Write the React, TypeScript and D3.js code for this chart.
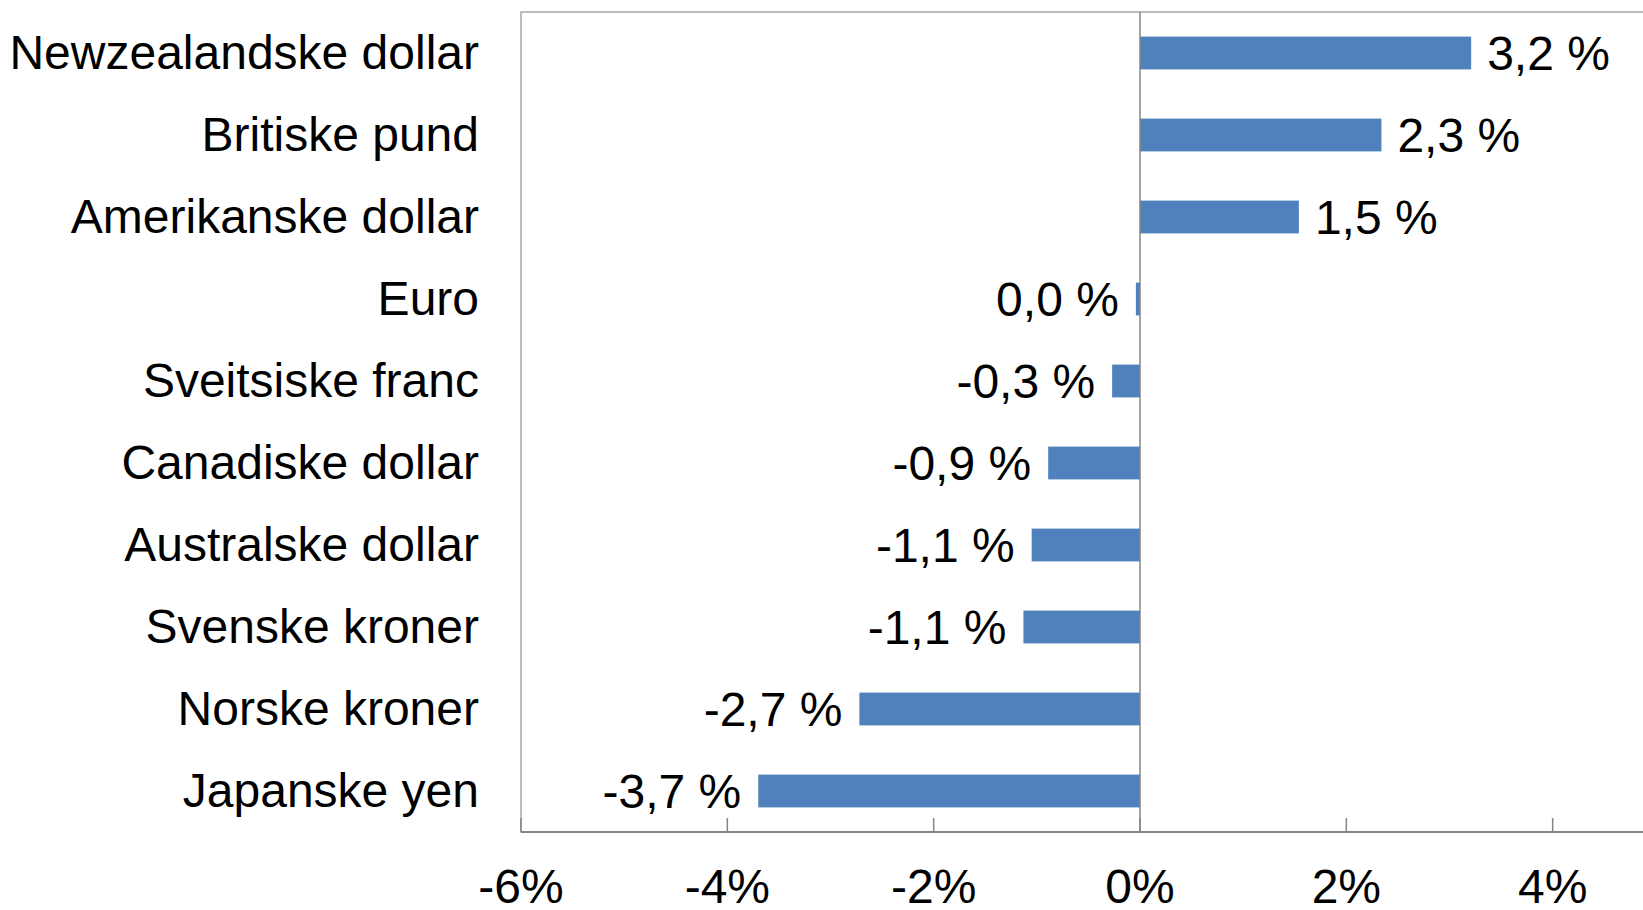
import React from "react";
import * as d3 from "d3";

const categories = [
  "Newzealandske dollar",
  "Britiske pund",
  "Amerikanske dollar",
  "Euro",
  "Sveitsiske franc",
  "Canadiske dollar",
  "Australske dollar",
  "Svenske kroner",
  "Norske kroner",
  "Japanske yen",
];
const values = [3.21, 2.34, 1.54, -0.04, -0.27, -0.89, -1.05, -1.13, -2.72, -3.7];
const valueLabels = ["3,2 %", "2,3 %", "1,5 %", "0,0 %", "-0,3 %", "-0,9 %", "-1,1 %", "-1,1 %", "-2,7 %", "-3,7 %"];
const xTicks = [-6, -4, -2, 0, 2, 4, 6];

const W = 1643;
const H = 910;
const FONT = "'Liberation Sans', Arial, sans-serif";
const FS = 48;

export default function App() {
  const left = 521;
  const right = 1759;
  const top = 12;
  const bottom = 832;
  const x = d3.scaleLinear().domain([-6, 6]).range([left, right]);
  const y = d3
    .scaleBand<string>()
    .domain(categories)
    .range([top, bottom])
    .paddingInner(0.6)
    .paddingOuter(0.3);
  const x0 = x(0);

  return (
    <div style={{ position: "absolute", left: 0, top: 0, width: W, height: H, overflow: "hidden", background: "#fff" }}>
      <svg width={W} height={H} style={{ display: "block" }} fontFamily={FONT}>
        <rect x={0} y={0} width={W} height={H} fill="#fff" />
        {/* plot frame */}
        <rect x={left} y={top} width={right - left} height={bottom - top} fill="none" stroke="#a6a6a6" strokeWidth={1.5} />
        {/* bars */}
        {categories.map((c, i) => {
          const v = values[i];
          const bx = Math.min(x(v), x0);
          const bw = Math.abs(x(v) - x0);
          return <rect key={c} x={bx} y={y(c)!} width={bw} height={y.bandwidth()} fill="#4f81bd" />;
        })}
        {/* zero line */}
        <line x1={x0} x2={x0} y1={top} y2={bottom} stroke="#868686" strokeWidth={1.5} />
        {/* x axis */}
        <line x1={left} x2={right} y1={bottom} y2={bottom} stroke="#868686" strokeWidth={2} />
        {xTicks.map((t) => (
          <g key={t}>
            <line x1={x(t)} x2={x(t)} y1={bottom} y2={bottom - 14} stroke="#868686" strokeWidth={1.5} />
            <text x={x(t)} y={903} textAnchor="middle" fontSize={FS} fill="#000">
              {`${t}%`}
            </text>
          </g>
        ))}
        {/* category labels */}
        {categories.map((c) => (
          <text key={c} x={479} y={y(c)! + y.bandwidth() / 2 + 16} textAnchor="end" fontSize={FS} fill="#000">
            {c}
          </text>
        ))}
        {/* value labels */}
        {categories.map((c, i) => {
          const v = values[i];
          const pos = v > 0;
          const tx = pos ? x(v) + 16 : x(v) - 17;
          return (
            <text
              key={c}
              x={tx}
              y={y(c)! + y.bandwidth() / 2 + 17}
              textAnchor={pos ? "start" : "end"}
              fontSize={FS}
              fill="#000"
            >
              {valueLabels[i]}
            </text>
          );
        })}
      </svg>
    </div>
  );
}
